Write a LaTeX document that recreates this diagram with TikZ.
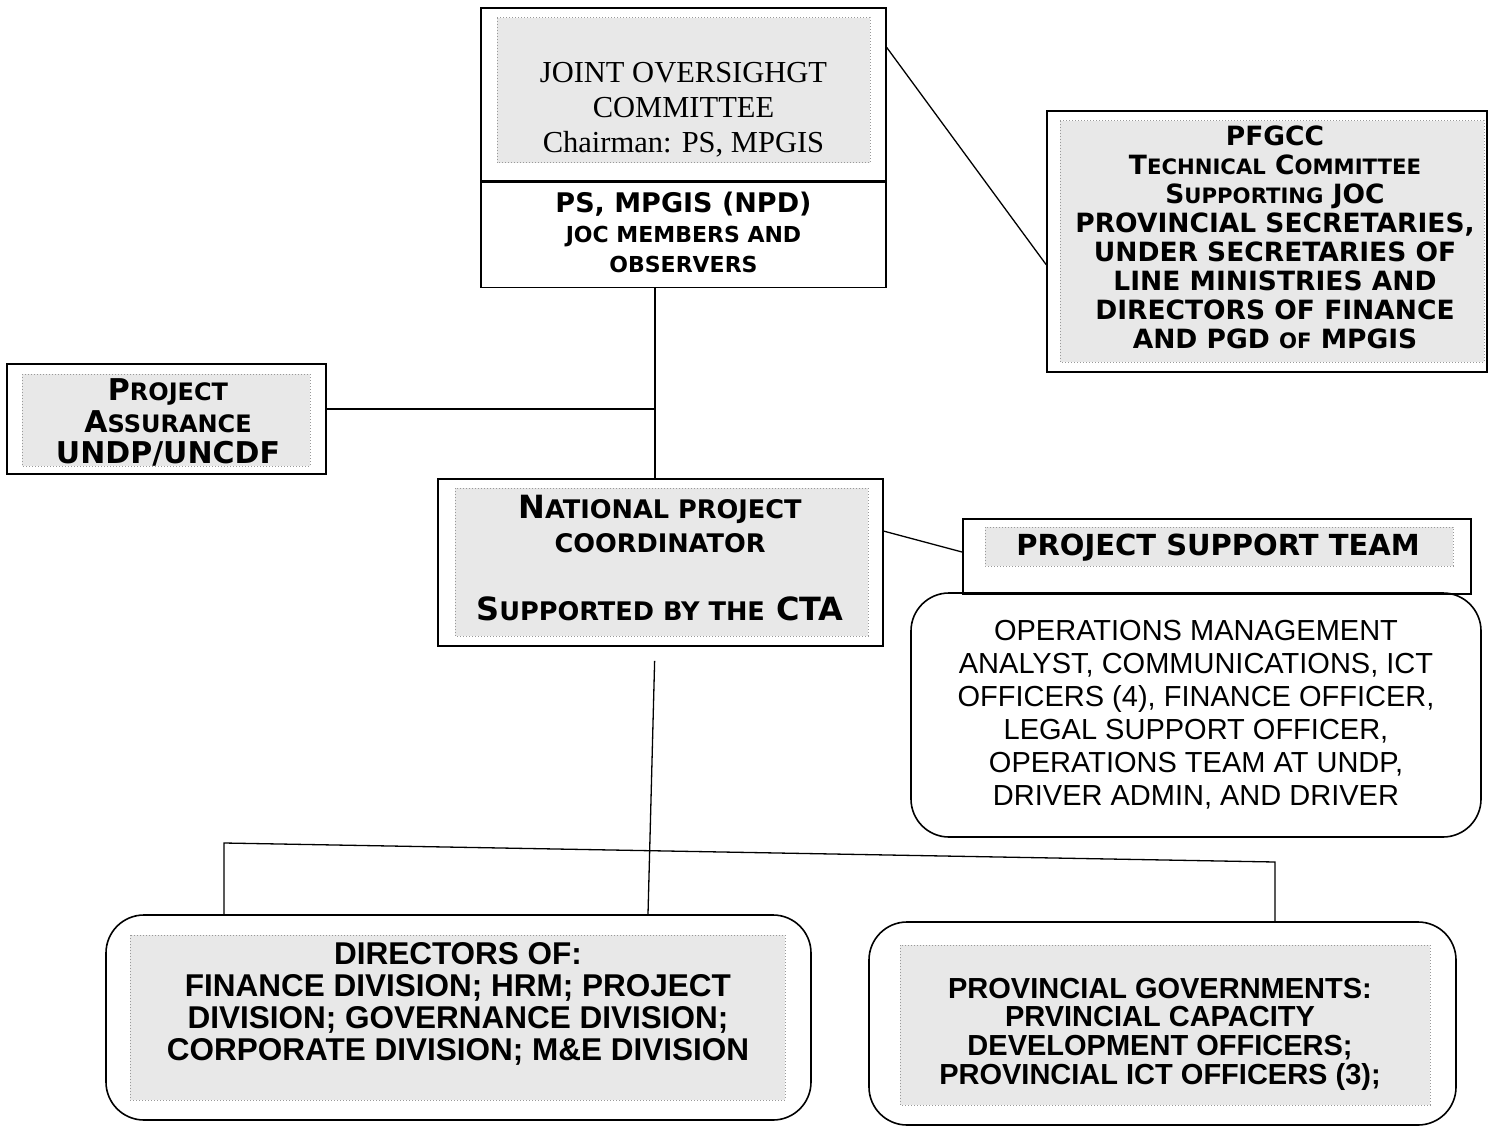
\documentclass[tikz,border=0pt]{standalone}
\usepackage{fontspec}
\setmainfont{Liberation Serif}
\newfontfamily\copfont{DejaVu Sans}
\newfontfamily\armfont{Liberation Sans}
\newcommand\sm[1]{\scalebox{0.8}{#1}}

\begin{document}
\begin{tikzpicture}[x=1pt,y=-1pt,
	box/.style={draw, line width=1.6pt, inner sep=0pt},
	rbox/.style={box, rounded corners=38pt},
	stip/.style={fill=black!9, draw=black!40, dotted, line width=1pt},
	link/.style={line width=1.3pt},
	txt/.style={align=center, inner sep=0pt, text depth=0pt},
	cop/.style 2 args={txt, font=\copfont\bfseries\fontsize{#1}{#2}\selectfont},
	arm/.style 2 args={txt, font=\armfont\fontsize{#1}{#2}\selectfont},
	armb/.style 2 args={txt, font=\armfont\bfseries\fontsize{#1}{#2}\selectfont}]

	\useasboundingbox (0,0) rectangle (1496,1126);

	% shaded panels
	\foreach \a/\b/\c/\d in {497/18/870/163, 1060/121/1484/362, 22/374/310/466,
		455/488/868/636, 985/527/1453/566, 130/935/785/1100, 900/945/1430/1105}
	\draw [stip] (\a,\b) rectangle (\c,\d);

	% boxes
	\node [box, minimum width=405pt, minimum height=173pt] (jocA) at (683.5,94.5) {};
	\node [box, minimum width=405pt, minimum height=105pt, anchor=north] (jocB) at (jocA.south) {};
	\node [box, minimum width=440pt, minimum height=261pt] (pfgcc) at (1267,241.5) {};
	\node [box, minimum width=319pt, minimum height=110pt] (pa) at (166.5,419) {};
	\node [box, minimum width=445pt, minimum height=167pt] (npc) at (660.5,562.5) {};
	\node [box, minimum width=508pt, minimum height=75pt] (pst) at (1217,556.5) {};
	\node [rbox, minimum width=570pt, minimum height=244pt] (ops) at (1196,715) {};
	\node [rbox, minimum width=705pt, minimum height=205pt] (dir) at (458.5,1017.5) {};
	\node [rbox, minimum width=587pt, minimum height=203pt] (prov) at (1162.5,1023.5) {};

	% texts
	\node [txt, font=\fontsize{30.5}{35}\selectfont] (jocT) at (683.5,107.5)
		{JOINT OVERSIGHGT\\COMMITTEE\\Chairman: PS, MPGIS};
	\node [cop={22}{30}] (jocL) at (683.5,232.5)
		{{\fontsize{27}{30}\selectfont PS, MPGIS (NPD)}\\JOC MEMBERS AND\\OBSERVERS};
	\node [cop={26.5}{29}] (pfT) at (1275,237.5)
		{PFGCC\\T\sm{ECHNICAL} C\sm{OMMITTEE}\\S\sm{UPPORTING} JOC\\PROVINCIAL SECRETARIES,\\
		UNDER SECRETARIES OF\\LINE MINISTRIES AND\\DIRECTORS OF FINANCE\\AND PGD \sm{OF} MPGIS};
	\node [cop={30}{31.5}] (paT) at (168,421.5) {P\sm{ROJECT}\\A\sm{SSURANCE}\\UNDP/UNCDF};
	\node [cop={32}{34}] (npcT) at (660,558)
		{N\sm{ATIONAL PROJECT}\\\sm{COORDINATOR}\\[34pt]S\sm{UPPORTED BY THE} CTA};
	\node [cop={29}{30}] (pstT) at (1218,545) {PROJECT SUPPORT TEAM};
	\node [arm={29}{33}] (opsT) at (1196,713)
		{OPERATIONS MANAGEMENT\\ANALYST, COMMUNICATIONS, ICT\\OFFICERS (4), FINANCE OFFICER,\\
		LEGAL SUPPORT OFFICER,\\OPERATIONS TEAM AT UNDP,\\DRIVER ADMIN, AND DRIVER};
	\node [armb={31.5}{32}] (dirT) at (458,1001)
		{DIRECTORS OF:\\FINANCE DIVISION; HRM; PROJECT\\DIVISION; GOVERNANCE DIVISION;\\
		CORPORATE DIVISION; M\&E DIVISION};
	\node [armb={29}{28.7}] (provT) at (1160,1031)
		{PROVINCIAL GOVERNMENTS:\\PRVINCIAL CAPACITY\\DEVELOPMENT OFFICERS;\\PROVINCIAL ICT OFFICERS (3);};

	% connectors
	\coordinate (spine) at (655,409);
	\coordinate (busL) at (224,843);
	\coordinate (busR) at (1275,862);
	\draw [link] (jocA.13) -- (pfgcc.186);
	\draw [link] (jocB.south -| spine) -- (npc.north -| spine);
	\draw [link] (pa.east |- spine) -- (spine);
	\draw [link] (npc.8) -- (pst.179);
	\draw [link, shorten <=14pt] (npc.south -| spine) -- ([xshift=-7pt]dir.north -| spine);
	\draw [link] (dir.north -| busL) -- (busL) -- (busR) -- (prov.north -| busR);

\end{tikzpicture}
\end{document}
